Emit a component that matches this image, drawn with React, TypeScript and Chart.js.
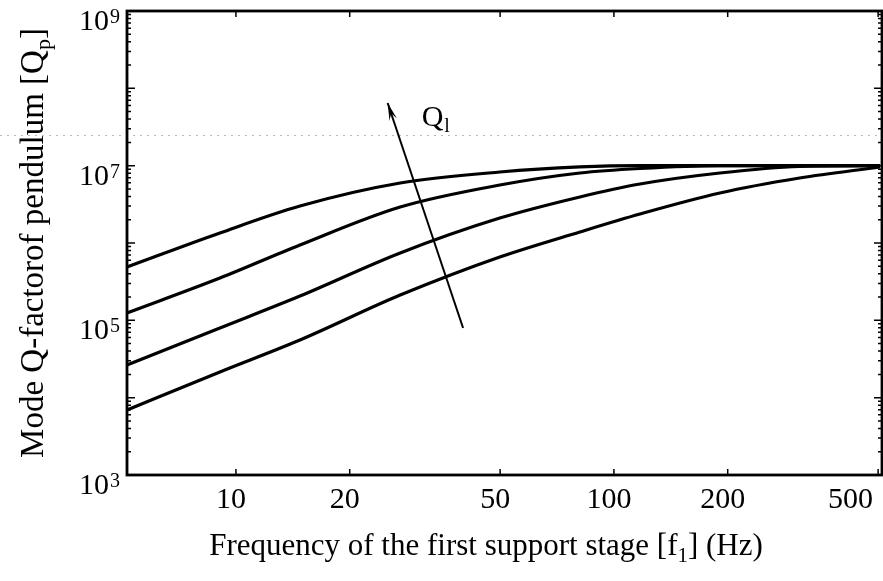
import React, { useEffect, useRef } from "react";
import { Chart, registerables } from "chart.js";

Chart.register(...registerables);

// Frequency of the first support stage (Hz)
const freqs = [5.15, 9.07, 14.77, 27.2, 49.9, 81.3, 117.2, 190.7, 310, 506];
// Mode Q-factor of pendulum, one series per Q_l value (top curve first)
const q1 = [4.9e5, 1.35e6, 3.01e6, 5.97e6, 8.28e6, 9.62e6, 1.0e7, 1.0e7, 1.0e7, 1.0e7];
const q2 = [1.245e5, 3.52e5, 9.42e5, 2.92e6, 5.62e6, 8.04e6, 9.19e6, 1.0e7, 1.0e7, 1.0e7];
const q3 = [2.64e4, 7.96e4, 2.06e5, 7.43e5, 2.1e6, 3.94e6, 5.79e6, 8.04e6, 9.75e6, 1.0e7];
const q4 = [6.92e3, 2.15e4, 5.56e4, 2.12e5, 6.59e5, 1.39e6, 2.37e6, 4.43e6, 6.92e6, 9.62e6];

// Arrow indicating increasing Q_l (tail -> head)
const arrowX = [39.9, 25.2];
const arrowY = [7.96e4, 6.46e7];
const arrowLabelX = 31;
const arrowLabelY = 3.26e7;

// Axis ticks
const xTicks = [10, 20, 50, 100, 200, 500];
const yExponents = [3, 5, 7, 9];
const xMin = 5.15;
const xMax = 512;
const yMin = 1e3;
const yMax = 1e9;
const scanLineValue = 2.45e7;

const xTitleMain = "Frequency of the first support stage [f";
const xTitleSub = "1";
const xTitleEnd = "] (Hz)";
const yTitleMain = "Mode Q-factorof pendulum [Q";
const yTitleSub = "p";
const yTitleEnd = "]";

const FONT = '"Liberation Serif", "Times New Roman", serif';

const decoPlugin = {
  id: "deco",
  beforeDatasetsDraw(chart: any) {
    const { ctx, scales } = chart;
    const py = scales.y.getPixelForValue(scanLineValue);
    ctx.save();
    ctx.strokeStyle = "#b5b5b5";
    ctx.lineWidth = 1;
    ctx.setLineDash([2, 5]);
    ctx.beginPath();
    ctx.moveTo(0, py);
    ctx.lineTo(chart.width, py);
    ctx.stroke();
    ctx.restore();
  },
  afterDatasetsDraw(chart: any) {
    const { ctx, chartArea, scales } = chart;
    const { left, right, top, bottom } = chartArea;
    const xs = scales.x;
    const ys = scales.y;
    ctx.save();
    ctx.strokeStyle = "#000";
    ctx.fillStyle = "#000";

    // frame
    ctx.lineWidth = 2.8;
    ctx.strokeRect(left, top, right - left, bottom - top);

    // y ticks (inward, left and right)
    ctx.lineWidth = 1.5;
    for (let e = 3; e <= 9; e++) {
      for (let m = 1; m <= 9; m++) {
        const v = m * Math.pow(10, e);
        if (v > yMax) break;
        const p = ys.getPixelForValue(v);
        const len = m === 1 ? 8 : 4;
        ctx.beginPath();
        ctx.moveTo(left, p);
        ctx.lineTo(left + len, p);
        ctx.moveTo(right, p);
        ctx.lineTo(right - len, p);
        ctx.stroke();
      }
    }
    // x ticks (inward, bottom and top)
    xTicks.forEach((v) => {
      const p = xs.getPixelForValue(v);
      ctx.beginPath();
      ctx.moveTo(p, bottom);
      ctx.lineTo(p, bottom - 6);
      ctx.moveTo(p, top);
      ctx.lineTo(p, top + 6);
      ctx.stroke();
    });

    // x tick labels
    ctx.font = `30px ${FONT}`;
    ctx.textAlign = "center";
    ctx.textBaseline = "alphabetic";
    xTicks.forEach((v) => {
      const t = String(v);
      const w = ctx.measureText(t).width;
      let cx = xs.getPixelForValue(v) - 5;
      if (cx + w / 2 > right - 6) cx = right - 9 - w / 2;
      ctx.fillText(t, cx, bottom + 33);
    });

    // y tick labels: 10^n
    yExponents.forEach((e) => {
      const p = ys.getPixelForValue(Math.pow(10, e)) + 11;
      ctx.font = `30px ${FONT}`;
      ctx.textAlign = "right";
      ctx.textBaseline = "middle";
      ctx.fillText("10", left - 18, p);
      ctx.font = `20px ${FONT}`;
      ctx.textAlign = "left";
      ctx.textBaseline = "alphabetic";
      ctx.fillText(String(e), left - 17, p + 1);
    });

    // arrow head
    const meta = chart.getDatasetMeta(4);
    if (meta && meta.data.length === 2) {
      const a = meta.data[0];
      const b = meta.data[1];
      const ang = Math.atan2(b.y - a.y, b.x - a.x);
      const L = 18;
      const spread = 0.22;
      ctx.beginPath();
      ctx.moveTo(b.x, b.y);
      ctx.lineTo(b.x - L * Math.cos(ang - spread), b.y - L * Math.sin(ang - spread));
      ctx.lineTo(b.x - 0.6 * L * Math.cos(ang), b.y - 0.6 * L * Math.sin(ang));
      ctx.lineTo(b.x - L * Math.cos(ang + spread), b.y - L * Math.sin(ang + spread));
      ctx.closePath();
      ctx.fill();
    }

    // Q_l label
    const lx = xs.getPixelForValue(arrowLabelX);
    const ly = ys.getPixelForValue(arrowLabelY);
    ctx.font = `30px ${FONT}`;
    ctx.textAlign = "left";
    ctx.textBaseline = "alphabetic";
    ctx.fillText("Q", lx, ly);
    const qw = ctx.measureText("Q").width;
    ctx.font = `20px ${FONT}`;
    ctx.fillText("l", lx + qw + 1, ly + 6);

    // x title
    const mainX = `31px ${FONT}`;
    const subX = `21px ${FONT}`;
    ctx.font = mainX;
    const w1 = ctx.measureText(xTitleMain).width;
    const w3 = ctx.measureText(xTitleEnd).width;
    ctx.font = subX;
    const w2 = ctx.measureText(xTitleSub).width;
    const totalX = w1 + w2 + w3;
    const xc = 486;
    const sx = xc - totalX / 2;
    const by = 555;
    ctx.textAlign = "left";
    ctx.font = mainX;
    ctx.fillText(xTitleMain, sx, by);
    ctx.font = subX;
    ctx.fillText(xTitleSub, sx + w1, by + 7);
    ctx.font = mainX;
    ctx.fillText(xTitleEnd, sx + w1 + w2, by);

    // y title (rotated)
    const mainY = `33px ${FONT}`;
    const subY = `22px ${FONT}`;
    ctx.font = mainY;
    const v1 = ctx.measureText(yTitleMain).width;
    const v3 = ctx.measureText(yTitleEnd).width;
    ctx.font = subY;
    const v2 = ctx.measureText(yTitleSub).width;
    const totalY = v1 + v2 + v3;
    ctx.translate(43, (top + bottom) / 2);
    ctx.rotate(-Math.PI / 2);
    const s = -totalY / 2;
    ctx.font = mainY;
    ctx.fillText(yTitleMain, s, 0);
    ctx.font = subY;
    ctx.fillText(yTitleSub, s + v1, 7);
    ctx.font = mainY;
    ctx.fillText(yTitleEnd, s + v1 + v2, 0);

    ctx.restore();
  },
};

export default function App() {
  const ref = useRef<HTMLCanvasElement | null>(null);
  useEffect(() => {
    document.body.style.margin = "0";
    const canvas = ref.current;
    if (!canvas) return;
    const mk = (arr: number[]) => freqs.map((f, i) => ({ x: f, y: arr[i] }));
    const lineStyle = {
      borderColor: "#000",
      borderWidth: 3.2,
      pointRadius: 0,
      fill: false,
      cubicInterpolationMode: "monotone" as const,
    };
    const chart = new Chart(canvas, {
      type: "line",
      data: {
        datasets: [
          { label: "Q_l 4", data: mk(q1), ...lineStyle },
          { label: "Q_l 3", data: mk(q2), ...lineStyle },
          { label: "Q_l 2", data: mk(q3), ...lineStyle },
          { label: "Q_l 1", data: mk(q4), ...lineStyle },
          {
            label: "arrow",
            data: arrowX.map((x, i) => ({ x, y: arrowY[i] })),
            borderColor: "#000",
            borderWidth: 2,
            pointRadius: 0,
            fill: false,
          },
        ],
      },
      options: {
        responsive: false,
        animation: false,
        devicePixelRatio: 1,
        layout: { padding: { left: 127, top: 11, right: 1, bottom: 106 } },
        plugins: { legend: { display: false }, tooltip: { enabled: false } },
        scales: {
          x: { type: "logarithmic", min: xMin, max: xMax, display: false },
          y: { type: "logarithmic", min: yMin, max: yMax, display: false },
        },
      },
      plugins: [decoPlugin],
    });
    return () => chart.destroy();
  }, []);
  return <canvas ref={ref} width={883} height={581} style={{ display: "block" }} />;
}
